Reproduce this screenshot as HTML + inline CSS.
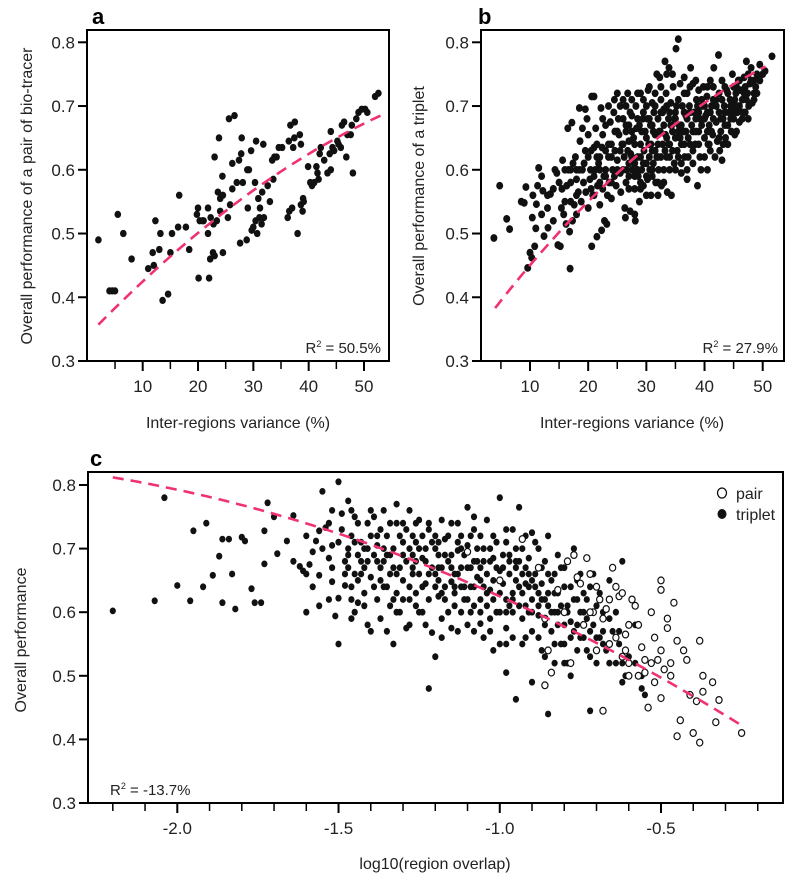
<!DOCTYPE html>
<html><head><meta charset="utf-8"><style>
html,body{margin:0;padding:0;background:#fff;}
svg{display:block;font-family:"Liberation Sans",Arial,sans-serif;}
</style></head><body>
<svg id="fig" width="800" height="883" viewBox="0 0 800 883"></svg>
<script>
// ---------- Panel a data ----------
const aX=[2,4,4.5,5,5.5,6.5,8,11,11.8,12,12.3,13,13.2,13.6,14.6,15,15.3,16.4,16.6,17.8,18.4,19.8,20,20.1,20.3,20.8,21,21.8,21.8,22,22.2,22.3,22.7,22.8,23,23,23.4,23.6,23.8,24,24,24.4,24.5,24.5,25.4,25.6,25.8,26.2,26.2,26.6,27,27.4,27.6,27.8,27.9,28.1,28.8,28.9,29,29.2,29.6,29.7,30,30.3,30.4,30.5,30.7,30.9,31.1,31.2,31.5,31.6,31.8,31.9,32.6,33,33.4,33.6,33.8,34.2,34.6,35.2,36.2,36.4,36.5,36.7,37,37.2,37.4,37.5,38,38.4,38.6,38.6,38.9,39,39.1,39.9,40.3,40.6,41,41.4,41.6,41.8,42,42.2,42.8,43.4,43.8,44,44,44.3,44.6,45.2,45.4,45.8,46,46.4,46.8,47,47.6,47.8,48,48.6,49,49.6,50.2,50.6,52,52.6];
const aY=[0.49,0.41,0.41,0.41,0.53,0.50,0.46,0.445,0.47,0.45,0.52,0.475,0.50,0.395,0.405,0.47,0.50,0.51,0.56,0.51,0.475,0.53,0.54,0.43,0.52,0.52,0.52,0.50,0.54,0.43,0.46,0.525,0.47,0.515,0.62,0.465,0.52,0.565,0.65,0.535,0.555,0.59,0.56,0.47,0.525,0.68,0.545,0.61,0.57,0.685,0.58,0.615,0.485,0.625,0.65,0.58,0.49,0.60,0.54,0.60,0.63,0.505,0.51,0.58,0.52,0.645,0.50,0.555,0.525,0.54,0.515,0.565,0.64,0.525,0.575,0.55,0.615,0.585,0.62,0.62,0.635,0.635,0.525,0.645,0.535,0.67,0.54,0.635,0.65,0.675,0.50,0.655,0.64,0.545,0.535,0.555,0.55,0.605,0.58,0.575,0.58,0.605,0.595,0.585,0.625,0.635,0.615,0.595,0.625,0.66,0.60,0.635,0.63,0.645,0.64,0.635,0.67,0.675,0.62,0.655,0.655,0.67,0.595,0.68,0.69,0.695,0.695,0.69,0.715,0.72];
const aFitX=[2,28,53];
const aFitY=[0.357,0.555,0.685];

// ---------- Panel b data ----------
const bPts=[3.8,0.493,4.8,0.575,6,0.523,6.5,0.507,8.5,0.55,9,0.548,9.3,0.573,9.6,0.446,10,0.47,10.3,0.462,10.4,0.525,10.5,0.56,10.8,0.48,11,0.508,11.1,0.546,11.3,0.575,11.5,0.603,12,0.59,12.2,0.567,12.4,0.496,13,0.56,13.1,0.509,13.5,0.562,14,0.52,14.3,0.6,14.6,0.595,14.8,0.482,15.2,0.48,15.4,0.54,15.5,0.57,15.6,0.615,15.8,0.53,16,0.55,16.2,0.515,16.3,0.575,16.5,0.665,16.6,0.6,16.8,0.503,16.9,0.445,17,0.6,17.2,0.674,17.3,0.52,17.4,0.61,17.6,0.545,17.8,0.62,18,0.585,18,0.53,18.3,0.565,18.5,0.697,18.5,0.6,18.6,0.645,18.8,0.55,19,0.665,19.2,0.58,19.3,0.61,19.5,0.695,19.6,0.565,19.8,0.68,20,0.54,20,0.655,20.3,0.585,20.4,0.6,20.6,0.48,20.6,0.715,20.8,0.56,21,0.715,21,0.635,21.2,0.6,21.3,0.665,21.5,0.495,21.6,0.575,21.8,0.61,22,0.545,22,0.58,22.2,0.697,22.3,0.505,22.4,0.635,22.5,0.655,22.7,0.59,22.8,0.52,23,0.6,23,0.67,23.2,0.515,23.3,0.56,23.5,0.62,23.6,0.58,23.8,0.675,24,0.64,24,0.555,24.2,0.6,24.4,0.69,24.6,0.63,24.8,0.575,25,0.615,25,0.72,25.3,0.655,25.5,0.595,25.6,0.565,25.8,0.64,26,0.71,26,0.68,26.2,0.62,26.3,0.54,26.4,0.525,26.5,0.66,26.6,0.6,26.8,0.72,27,0.645,27,0.57,27.2,0.535,27.3,0.625,27.5,0.685,27.6,0.6,27.8,0.65,28,0.53,28,0.57,28.1,0.52,28.2,0.7,28.3,0.665,28.5,0.62,28.6,0.59,28.8,0.55,29,0.72,29,0.64,29.2,0.6,29.4,0.68,29.5,0.575,29.6,0.63,29.8,0.66,30,0.61,30,0.7,30.2,0.585,30.3,0.725,30.4,0.64,30.6,0.6,30.7,0.67,30.8,0.56,31,0.63,31,0.705,31.2,0.61,31.3,0.69,31.5,0.655,31.6,0.58,31.8,0.75,32,0.68,32,0.62,32.1,0.6,32.3,0.745,32.4,0.66,32.5,0.71,32.6,0.575,32.8,0.64,33,0.695,33,0.6,33.2,0.77,33.3,0.655,33.4,0.72,33.5,0.62,33.6,0.565,33.8,0.68,33.9,0.76,34,0.6,34,0.64,34.2,0.705,34.3,0.56,34.4,0.67,34.6,0.73,34.8,0.61,35,0.69,35,0.65,35.1,0.79,35.3,0.63,35.5,0.805,35.5,0.71,35.6,0.67,35.8,0.735,36,0.64,36,0.595,36.2,0.7,36.4,0.66,36.5,0.745,36.6,0.62,36.8,0.685,37,0.72,37,0.585,37.2,0.65,37.4,0.7,37.6,0.76,37.8,0.67,38,0.61,38,0.735,38.2,0.69,38.4,0.64,38.6,0.71,38.8,0.575,39,0.66,39,0.725,39.2,0.68,39.4,0.6,39.6,0.7,39.8,0.73,40,0.65,40,0.62,40.2,0.685,40.4,0.715,40.5,0.6,40.6,0.64,40.8,0.67,41,0.74,41,0.63,41.2,0.7,41.4,0.655,41.6,0.76,41.8,0.62,42,0.675,42,0.71,42.2,0.645,42.4,0.78,42.5,0.69,42.6,0.63,42.8,0.66,43,0.74,43,0.615,43.2,0.68,43.4,0.7,43.6,0.65,43.8,0.725,44,0.67,44,0.64,44.2,0.69,44.4,0.71,44.6,0.66,44.8,0.75,45,0.7,45,0.68,45.2,0.655,45.4,0.72,45.6,0.69,45.8,0.74,46,0.7,46,0.675,46.2,0.725,46.5,0.71,46.8,0.745,47,0.69,47.2,0.77,47.4,0.72,47.6,0.7,47.8,0.735,48,0.76,48.2,0.705,48.5,0.74,48.8,0.73,49,0.72,49.2,0.745,49.5,0.765,50,0.75,50.4,0.755,51.6,0.778,
25,0.66,26,0.64,27,0.67,28,0.64,29,0.62,30,0.65,31,0.67,32,0.64,33,0.67,34,0.69,35,0.68,36,0.67,37,0.68,38,0.66,39,0.64,40,0.7,24,0.62,23,0.59,22,0.62,21,0.59,20,0.62,19,0.6,18,0.6,17,0.58,
26.5,0.7,27.5,0.66,28.5,0.68,29.5,0.69,30.5,0.68,31.5,0.63,32.5,0.69,33.5,0.65,34.5,0.63,35.5,0.66,36.5,0.69,37.5,0.64,38.5,0.68,41.5,0.68,43.5,0.67,45.5,0.7,42.5,0.65,40.5,0.66,29,0.58,30,0.59,31,0.6,32,0.58,27,0.59,28,0.61,
20.5,0.57,21.5,0.62,22.5,0.57,23.5,0.64,24.5,0.59,25.5,0.63,26.5,0.58,27.5,0.62,28.5,0.6,29.5,0.61,30.5,0.62,31.5,0.7,32.5,0.62,33.5,0.7,34.5,0.66,35.5,0.62,36.5,0.64,37.5,0.69,38.5,0.66,39.5,0.67,40.5,0.69,41.5,0.71,42.5,0.72,43.5,0.73,44.5,0.7,45.5,0.73,46.5,0.69,47.5,0.75,48.5,0.72,49.5,0.74,
24.6,0.66,25.2,0.68,26.8,0.63,27.2,0.69,28.8,0.67,29.2,0.66,30.8,0.64,31.2,0.66,32.8,0.69,33.2,0.63,34.8,0.68,35.2,0.7,36.8,0.66,37.2,0.62,38.8,0.7,39.2,0.62,40.8,0.64,41.2,0.66,42.8,0.68,43.2,0.64,44.8,0.69,45.2,0.71,46.8,0.72,47.2,0.71,30.2,0.68,31.8,0.62,32.2,0.66,33.8,0.64,34.2,0.67,35.8,0.65,
19.5,0.63,21,0.56,22,0.6,23,0.63,24,0.58,25,0.6,26,0.6,27,0.61,28,0.59,29,0.57,30,0.56,31,0.59,32,0.56,33,0.58,34,0.62,35,0.6,36,0.61,37,0.6,38,0.63,39,0.69,40,0.68,41,0.69,42,0.7,43,0.71,44,0.72,45,0.73,46,0.74,47,0.73,48,0.74,49,0.75,
18,0.56,17,0.55,16,0.6,15,0.58,14,0.57,13,0.54,12,0.53,20.5,0.63,21.5,0.64,22.5,0.68,23.5,0.7,24.5,0.71,25.5,0.7,26.5,0.67,27.5,0.71,28.5,0.72,29.5,0.71,30.5,0.73,31.5,0.72,32.5,0.73,33.5,0.75,34.5,0.75,36.5,0.72,37.5,0.73,38.5,0.74,39.5,0.71,40.5,0.73,41.5,0.73,43.5,0.69,44.5,0.68,45.5,0.66,46.5,0.68,47.5,0.68,48.5,0.71];
const bFitX=[4,30,50.5];
const bFitY=[0.383,0.635,0.762];

// ---------- Panel c data ----------
const cTriplet=[-2.2,0.602,-2.07,0.618,-2.04,0.78,-2.0,0.642,-1.96,0.618,-1.95,0.728,-1.92,0.64,-1.91,0.74,-1.89,0.658,-1.87,0.688,-1.86,0.615,-1.86,0.715,-1.84,0.715,-1.83,0.66,-1.82,0.605,-1.8,0.718,-1.79,0.712,-1.77,0.637,-1.76,0.615,-1.74,0.615,-1.73,0.676,-1.73,0.728,-1.72,0.772,-1.7,0.75,-1.69,0.692,-1.66,0.712,-1.64,0.752,-1.62,0.672,-1.61,0.665,-1.6,0.72,-1.59,0.675,-1.58,0.695,-1.57,0.712,-1.56,0.728,-1.56,0.658,-1.55,0.79,-1.54,0.733,-1.53,0.685,-1.52,0.648,-1.52,0.705,-1.51,0.594,-1.5,0.622,-1.5,0.805,-1.49,0.755,-1.48,0.642,-1.47,0.775,-1.47,0.67,-1.46,0.59,-1.45,0.75,-1.45,0.6,-1.44,0.615,-1.43,0.66,-1.42,0.7,-1.41,0.74,-1.41,0.58,-1.4,0.655,-1.4,0.72,-1.39,0.75,-1.38,0.705,-1.37,0.59,-1.36,0.68,-1.36,0.76,-1.35,0.72,-1.34,0.66,-1.33,0.7,-1.33,0.55,-1.32,0.74,-1.31,0.6,-1.3,0.69,-1.29,0.575,-1.29,0.73,-1.28,0.76,-1.27,0.67,-1.26,0.63,-1.26,0.71,-1.25,0.745,-1.24,0.6,-1.24,0.685,-1.23,0.645,-1.22,0.73,-1.21,0.568,-1.2,0.7,-1.2,0.66,-1.19,0.625,-1.18,0.745,-1.18,0.59,-1.17,0.715,-1.16,0.68,-1.15,0.648,-1.15,0.575,-1.14,0.61,-1.13,0.74,-1.13,0.697,-1.12,0.67,-1.11,0.64,-1.1,0.765,-1.1,0.705,-1.09,0.6,-1.08,0.68,-1.08,0.73,-1.07,0.655,-1.06,0.62,-1.06,0.582,-1.05,0.7,-1.04,0.745,-1.04,0.66,-1.03,0.635,-1.02,0.72,-1.02,0.685,-1.01,0.6,-1.0,0.665,-1.0,0.78,-0.99,0.645,-0.98,0.71,-0.98,0.575,-0.97,0.69,-0.96,0.63,-0.96,0.73,-0.95,0.67,-0.94,0.61,-0.94,0.765,-0.93,0.7,-0.92,0.645,-0.92,0.56,-0.91,0.685,-0.9,0.725,-0.9,0.62,-0.89,0.66,-0.88,0.595,-0.88,0.7,-0.87,0.645,-0.86,0.53,-0.86,0.68,-0.85,0.72,-0.85,0.61,-0.84,0.57,-0.83,0.66,-0.82,0.69,-0.82,0.63,-0.81,0.55,-0.8,0.6,-0.8,0.67,-0.79,0.52,-0.78,0.64,-0.78,0.585,-0.77,0.7,-0.76,0.62,-0.75,0.56,-0.75,0.66,-0.74,0.6,-0.73,0.54,-0.72,0.64,-0.71,0.58,-0.7,0.61,-0.7,0.52,-0.69,0.56,-0.68,0.6,-0.67,0.54,-0.66,0.65,-0.65,0.57,-0.64,0.52,-0.63,0.55,-0.62,0.68,-0.61,0.5,-0.6,0.53,-0.58,0.58,-0.56,0.5,-0.55,0.47,-0.9,0.49,-0.85,0.44,-0.72,0.445,-1.22,0.48,-1.2,0.53,-0.98,0.505,-0.95,0.463,-1.5,0.55,-1.6,0.6,-1.35,0.57,-1.4,0.57,
-1.46,0.72,-1.44,0.69,-1.42,0.67,-1.39,0.64,-1.38,0.68,-1.37,0.73,-1.35,0.64,-1.34,0.69,-1.33,0.62,-1.31,0.67,-1.3,0.65,-1.3,0.71,-1.28,0.64,-1.27,0.69,-1.25,0.66,-1.23,0.7,-1.22,0.62,-1.21,0.67,-1.19,0.69,-1.17,0.64,-1.16,0.72,-1.14,0.66,-1.12,0.7,-1.11,0.62,-1.1,0.67,-1.09,0.64,-1.07,0.7,-1.05,0.64,-1.04,0.61,-1.03,0.68,-1.01,0.71,-1.0,0.63,-0.99,0.69,-0.97,0.66,-0.96,0.6,-0.95,0.7,-0.93,0.63,-0.92,0.67,-0.91,0.6,-0.9,0.65,-0.89,0.71,-0.87,0.67,-0.86,0.62,-0.84,0.65,-0.83,0.6,-0.82,0.58,-0.81,0.67,-0.79,0.61,-0.77,0.57,-0.76,0.65,-0.74,0.63,-0.73,0.59,-0.71,0.66,-0.69,0.63,-0.68,0.57,-0.66,0.59,-0.64,0.6,-0.63,0.57,-1.47,0.7,-1.43,0.71,-1.36,0.7,-1.32,0.66,-1.28,0.7,-1.26,0.68,-1.24,0.72,-1.2,0.64,-1.18,0.67,-1.15,0.69,-1.13,0.66,-1.09,0.72,-1.06,0.67,-1.02,0.65,-0.98,0.62,-0.95,0.65,-0.94,0.68,-0.88,0.63,-0.85,0.66,-0.8,0.64,-1.05,0.56,-1.1,0.58,-0.96,0.56,-0.9,0.57,-0.87,0.54,-0.83,0.52,-0.8,0.55,-0.78,0.5,-1.0,0.55,-1.12,0.6,-1.25,0.6,-1.3,0.62,-1.42,0.63,-1.48,0.68,-1.5,0.71,-1.53,0.74,-1.44,0.74,-1.38,0.72,-1.3,0.74,-1.22,0.74,-1.15,0.74,-1.08,0.75,-0.98,0.73,-0.92,0.72,
-1.34,0.74,-1.27,0.72,-1.19,0.71,-1.12,0.72,-1.06,0.72,-1.17,0.62,-1.08,0.61,-1.14,0.63,-1.03,0.59,-0.93,0.59,-0.97,0.61,-0.91,0.64,-1.19,0.65,-1.32,0.63,-1.37,0.65,-1.41,0.68,-1.45,0.66,-1.52,0.67,-1.55,0.7,-1.58,0.64,
-1.49,0.73,-1.47,0.69,-1.45,0.71,-1.43,0.68,-1.41,0.7,-1.39,0.69,-1.37,0.67,-1.35,0.69,-1.33,0.67,-1.31,0.72,-1.29,0.68,-1.27,0.66,-1.25,0.7,-1.23,0.68,-1.21,0.71,-1.19,0.67,-1.17,0.69,-1.15,0.67,-1.13,0.71,-1.11,0.69,-1.09,0.67,-1.07,0.68,-1.05,0.68,-1.03,0.7,-1.01,0.67,-0.99,0.67,-0.97,0.68,-0.95,0.68,-0.93,0.66,-0.91,0.66,-0.89,0.64,-0.87,0.62,-0.85,0.63,-0.83,0.63,-0.81,0.61,-0.79,0.6,-0.77,0.62,-0.75,0.6,-0.73,0.62,-0.71,0.6,
-1.48,0.66,-1.46,0.64,-1.44,0.65,-1.42,0.61,-1.38,0.62,-1.36,0.64,-1.34,0.61,-1.32,0.6,-1.28,0.62,-1.26,0.61,-1.24,0.64,-1.22,0.66,-1.18,0.63,-1.16,0.6,-1.14,0.64,-1.12,0.64,-1.1,0.62,-1.08,0.64,-1.06,0.65,-1.04,0.63,-1.02,0.62,-1.0,0.6,-0.98,0.6,-0.96,0.62,-0.94,0.64,-0.92,0.61,-0.9,0.6,-0.88,0.61,-0.86,0.58,-0.84,0.6,-0.82,0.6,-0.8,0.58,-0.78,0.56,-0.76,0.58,-0.74,0.56,-0.72,0.57,-0.7,0.56,-0.68,0.55,
-1.28,0.58,-1.23,0.58,-1.18,0.56,-1.13,0.57,-1.08,0.57,-1.03,0.57,-0.98,0.55,-0.93,0.55,-0.88,0.56,-0.83,0.55,-0.8,0.52,-0.76,0.54,-0.72,0.53,-0.66,0.52,-0.62,0.52,-0.58,0.52,-0.56,0.48,-0.62,0.49,-1.02,0.54,-1.06,0.6,-1.46,0.62,-1.53,0.62,-1.56,0.61,-1.6,0.66,-1.64,0.68,-1.52,0.76,-1.46,0.76,-1.4,0.76,-1.32,0.77,-1.26,0.74,-1.2,0.72];
const cPair=[-1.1,0.695,-1.0,0.65,-0.93,0.715,-0.88,0.67,-0.86,0.59,-0.85,0.54,-0.84,0.505,-0.86,0.485,-0.82,0.635,-0.8,0.6,-0.79,0.68,-0.78,0.52,-0.77,0.69,-0.76,0.655,-0.75,0.645,-0.74,0.58,-0.73,0.685,-0.72,0.66,-0.71,0.6,-0.7,0.64,-0.7,0.54,-0.69,0.62,-0.68,0.59,-0.68,0.445,-0.67,0.605,-0.66,0.55,-0.65,0.67,-0.64,0.64,-0.63,0.625,-0.62,0.63,-0.61,0.565,-0.61,0.54,-0.6,0.5,-0.59,0.62,-0.58,0.61,-0.57,0.58,-0.56,0.545,-0.55,0.525,-0.55,0.505,-0.54,0.45,-0.53,0.6,-0.52,0.56,-0.52,0.49,-0.51,0.525,-0.5,0.65,-0.5,0.635,-0.5,0.54,-0.5,0.465,-0.49,0.51,-0.48,0.59,-0.48,0.575,-0.47,0.52,-0.46,0.615,-0.45,0.555,-0.45,0.405,-0.44,0.43,-0.43,0.54,-0.42,0.525,-0.41,0.47,-0.4,0.41,-0.39,0.46,-0.38,0.555,-0.38,0.395,-0.37,0.475,-0.37,0.5,-0.34,0.49,-0.33,0.427,-0.32,0.462,-0.25,0.41,-0.72,0.6,-0.66,0.62,-0.6,0.52,-0.57,0.5,-0.53,0.52,-0.47,0.5,-0.6,0.58,-0.64,0.56,-0.62,0.53];
const cFitX=[-2.2,-1.0,-0.25];
const cFitY=[0.812,0.625,0.422];

const yTicks=[0.3,0.4,0.5,0.6,0.7,0.8];
const yTickLabels=["0.3","0.4","0.5","0.6","0.7","0.8"];
const abXTicks=[10,20,30,40,50];
const abXTickLabels=["10","20","30","40","50"];
const abXMinor=[5,15,25,35,45];
const cXTicks=[-2.0,-1.5,-1.0,-0.5];
const cXTickLabels=["-2.0","-1.5","-1.0","-0.5"];
const cXMinor=[-2.2,-2.1,-1.9,-1.8,-1.7,-1.6,-1.4,-1.3,-1.2,-1.1,-0.9,-0.8,-0.7,-0.6,-0.4,-0.3,-0.2];

const NS="http://www.w3.org/2000/svg";
const svg=document.getElementById('fig');
function mk(tag,attrs,parent){const e=document.createElementNS(NS,tag);for(const k in attrs)e.setAttribute(k,attrs[k]);(parent||svg).appendChild(e);return e;}
function lin(d0,d1,r0,r1){return v=>r0+(v-d0)*(r1-r0)/(d1-d0);}
function quad(xs,ys){const[x0,x1,x2]=xs,[y0,y1,y2]=ys;return x=>y0*(x-x1)*(x-x2)/((x0-x1)*(x0-x2))+y1*(x-x0)*(x-x2)/((x1-x0)*(x1-x2))+y2*(x-x0)*(x-x1)/((x2-x0)*(x2-x1));}

function panel(cfg){
  const g=mk('g',{});
  
  
  const {L,R,T,B}=cfg;
  const sx=lin(cfg.xd[0],cfg.xd[1],cfg.xr[0],cfg.xr[1]);
  const sy=lin(0.3,0.8,B,cfg.y08);
  const clip='clip-'+cfg.name;
  const cp=mk('clipPath',{id:clip},g);mk('rect',{x:L,y:T,width:R-L,height:B-T},cp);
  const pts=mk('g',{'clip-path':'url(#'+clip+')'},g);
  
  
  cfg.series.forEach(s=>{
    for(let i=0;i<s.xs.length;i++){
      const c=mk('ellipse',{cx:sx(s.xs[i]).toFixed(1),cy:sy(s.ys[i]).toFixed(1),rx:cfg.r,ry:cfg.r*1.1,fill:s.open?'#fff':'#111',stroke:'#111','stroke-width':s.open?1.2:0},pts);
      
      
    }
  });
  const f=quad(cfg.fx,cfg.fy);let d='';
  const x0=cfg.fx[0],x1=cfg.fx[2];
  for(let i=0;i<=60;i++){const x=x0+(x1-x0)*i/60;d+=(i?'L':'M')+sx(x).toFixed(1)+','+sy(f(x)).toFixed(1);}
  const fl=mk('path',{d:d,fill:'none',stroke:'#f0326e','stroke-width':2.6,'stroke-dasharray':'11,7'},g);
  
  
  const box=mk('rect',{x:L,y:T,width:R-L,height:B-T,fill:'none',stroke:'#000','stroke-width':2},g);
  
  
  yTicks.forEach((v,i)=>{
    const y=sy(v);mk('line',{x1:L-9,x2:L,y1:y,y2:y,stroke:'#000','stroke-width':2},g);
    const t=mk('text',{x:L-12,y:y+6,'text-anchor':'end','font-size':17,fill:'#222'},g);t.textContent=yTickLabels[i];
    
    
  });
  cfg.minor.forEach(v=>{const x=sx(v);mk('line',{x1:x,x2:x,y1:B,y2:B+8,stroke:'#000','stroke-width':1.5},g);});
  cfg.xt.forEach((v,i)=>{
    const x=sx(v);mk('line',{x1:x,x2:x,y1:B,y2:B+10,stroke:'#000','stroke-width':2},g);
    const t=mk('text',{x:x,y:B+31,'text-anchor':'middle','font-size':17,fill:'#222'},g);t.textContent=cfg.xtl[i];
    
    
  });
  const xt=mk('text',{x:cfg.xtitle[1],y:cfg.xtitle[2],'text-anchor':'middle','font-size':16,fill:'#222'},g);xt.textContent=cfg.xtitle[0];
  
  
  const yt=mk('text',{x:0,y:0,'text-anchor':'middle','font-size':16,fill:'#222',transform:'translate('+cfg.ytitle[1]+','+cfg.ytitle[2]+') rotate(-90)'},g);yt.textContent=cfg.ytitle[0];
  
  
  const lab=mk('text',{x:cfg.lab[1],y:cfg.lab[2],'font-size':22,'font-weight':'bold',fill:'#000'},g);lab.textContent=cfg.lab[0];
  
  
  const r2=mk('text',{x:cfg.r2[1],y:cfg.r2[2],'text-anchor':cfg.r2[3],'font-size':15,fill:'#222'},g);
  r2.innerHTML='R<tspan dy="-6" font-size="9">2</tspan><tspan dy="6"> = '+cfg.r2[0]+'</tspan>';
  
  
  return g;
}
const splitX=a=>a.filter((_,i)=>i%2===0), splitY=a=>a.filter((_,i)=>i%2===1);

panel({name:'panel-a',L:87,R:389,T:30,B:361,y08:42.3,xd:[10,50],xr:[142.7,364],r:3.3,
  series:[{name:'pair',xs:aX,ys:aY}],fx:aFitX,fy:aFitY,minor:abXMinor,xt:abXTicks,xtl:abXTickLabels,
  xtitle:['Inter-regions variance (%)',238,428],ytitle:['Overall performance of a pair of bio-tracer',32,196],
  lab:['a',92,24],r2:['50.5%',381,353,'end']});
panel({name:'panel-b',L:481,R:784,T:30,B:361,y08:42.3,xd:[10,50],xr:[530,762.7],r:3.5,
  series:[{name:'triplet',xs:splitX(bPts),ys:splitY(bPts)}],fx:bFitX,fy:bFitY,minor:abXMinor,xt:abXTicks,xtl:abXTickLabels,
  xtitle:['Inter-regions variance (%)',632,428],ytitle:['Overall performance of a triplet',424,196],
  lab:['b',478,24],r2:['27.9%',778,353,'end']});
panel({name:'panel-c',L:88,R:783,T:472,B:803,y08:485,xd:[-2.0,-0.5],xr:[177.3,661],r:3.1,
  series:[{name:'triplet',xs:splitX(cTriplet),ys:splitY(cTriplet)},{name:'pair',xs:splitX(cPair),ys:splitY(cPair),open:true}],
  fx:cFitX,fy:cFitY,minor:cXMinor,xt:cXTicks,xtl:cXTickLabels,
  xtitle:['log10(region overlap)',435,869],ytitle:['Overall performance',26,640],
  lab:['c',90,466],r2:['-13.7%',110,795,'start']});

// legend
const lg=mk('g',{});


const lp=mk('g',{},lg);


mk('ellipse',{cx:722,cy:493,rx:4.5,ry:5,fill:'#fff',stroke:'#111','stroke-width':1.3},lp);
const t1=mk('text',{x:736,y:499,'font-size':16,fill:'#222'},lp);t1.textContent='pair';
const lt=mk('g',{},lg);


mk('ellipse',{cx:722,cy:514,rx:4.5,ry:5,fill:'#111'},lt);
const t2=mk('text',{x:736,y:520,'font-size':16,fill:'#222'},lt);t2.textContent='triplet';
</script>
</body></html>
